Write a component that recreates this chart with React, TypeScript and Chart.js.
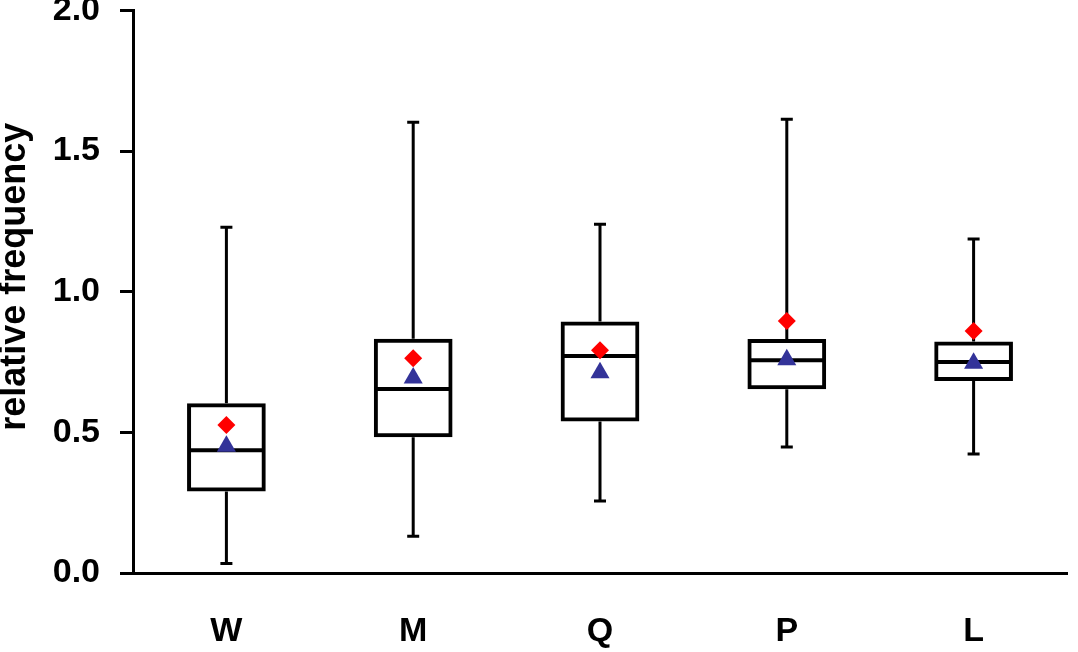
import React, { useEffect, useRef } from "react"
import { Chart, registerables } from "chart.js"

Chart.register(...registerables)

const categories = ["W", "M", "Q", "P", "L"]
const whiskerMin = [0.034, 0.131, 0.256, 0.448, 0.423]
const quartile1 = [0.297, 0.49, 0.546, 0.66, 0.69]
const medians = [0.436, 0.654, 0.771, 0.756, 0.75]
const quartile3 = [0.596, 0.826, 0.887, 0.825, 0.816]
const whiskerMax = [1.229, 1.602, 1.24, 1.613, 1.187]
const diamondValues = [0.526, 0.763, 0.792, 0.896, 0.86]
const triangleValues = [0.451, 0.693, 0.712, 0.758, 0.746]
const yTicks = [0, 0.5, 1, 1.5, 2]

const FONT = '"Liberation Sans", Arial, sans-serif'

// whiskers, caps and median lines, drawn right after the boxes
const boxExtras = {
  id: "boxExtras",
  afterDatasetDraw(chart: any, args: any) {
    if (args.index !== 0) return
    const { ctx } = chart
    const y = chart.scales.y
    const meta = chart.getDatasetMeta(0)
    ctx.save()
    ctx.strokeStyle = "#000"
    ctx.lineCap = "butt"
    meta.data.forEach((bar: any, i: number) => {
      const x = bar.x
      const half = bar.width / 2
      ctx.lineWidth = 3
      ctx.beginPath()
      ctx.moveTo(x, y.getPixelForValue(quartile3[i]) - 2)
      ctx.lineTo(x, y.getPixelForValue(whiskerMax[i]))
      ctx.moveTo(x, y.getPixelForValue(quartile1[i]) + 2)
      ctx.lineTo(x, y.getPixelForValue(whiskerMin[i]))
      ctx.moveTo(x - 6, y.getPixelForValue(whiskerMax[i]))
      ctx.lineTo(x + 6, y.getPixelForValue(whiskerMax[i]))
      ctx.moveTo(x - 6, y.getPixelForValue(whiskerMin[i]))
      ctx.lineTo(x + 6, y.getPixelForValue(whiskerMin[i]))
      ctx.stroke()
      ctx.lineWidth = 4
      ctx.beginPath()
      ctx.moveTo(x - half, y.getPixelForValue(medians[i]))
      ctx.lineTo(x + half, y.getPixelForValue(medians[i]))
      ctx.stroke()
    })
    ctx.restore()
  },
}

export default function App() {
  const canvasRef = useRef<HTMLCanvasElement>(null)
  const chartRef = useRef<Chart | null>(null)

  useEffect(() => {
    if (!canvasRef.current) return
    const ctx = canvasRef.current.getContext("2d")
    if (!ctx) return

    chartRef.current?.destroy()

    chartRef.current = new Chart(ctx, {
      type: "bar",
      data: {
        labels: categories,
        datasets: [
          {
            type: "bar",
            data: quartile1.map((q, i) => [q, quartile3[i]]),
            backgroundColor: "#ffffff",
            borderColor: "#000000",
            borderWidth: 4,
            borderSkipped: false,
            inflateAmount: 2,
            barPercentage: 0.4,
            categoryPercentage: 1,
            order: 3,
          } as any,
          {
            type: "line",
            data: triangleValues,
            showLine: false,
            pointStyle: "triangle",
            pointRadius: 11,
            pointBorderWidth: 0,
            pointBackgroundColor: "#333399",
            pointBorderColor: "#333399",
            order: 2,
          },
          {
            type: "line",
            data: diamondValues,
            showLine: false,
            pointStyle: "rectRot",
            pointRadius: 9,
            pointBorderWidth: 0,
            pointBackgroundColor: "#ff0000",
            pointBorderColor: "#ff0000",
            order: 1,
          },
        ],
      },
      options: {
        responsive: true,
        maintainAspectRatio: false,
        animation: false,
        layout: { padding: { top: 22, left: 0, right: 5, bottom: 0 } },
        plugins: {
          legend: { display: false },
          tooltip: { enabled: false },
        },
        scales: {
          x: {
            grid: { display: false },
            border: { display: true, color: "#000", width: 3 },
            ticks: {
              color: "#000",
              padding: 30,
              font: { family: FONT, size: 34, weight: "bold" },
            },
            afterFit: (scale: any) => {
              scale.height = 79
            },
          },
          y: {
            min: 0,
            max: 2,
            afterBuildTicks: (scale: any) => {
              scale.ticks = yTicks.map((v) => ({ value: v }))
            },
            grid: {
              display: true,
              drawOnChartArea: false,
              drawTicks: true,
              tickLength: 13,
              color: "#000",
              lineWidth: 3,
            },
            border: { display: true, color: "#000", width: 3 },
            ticks: {
              color: "#000",
              padding: 20,
              font: { family: FONT, size: 34, weight: "bold" },
              callback: (v) => Number(v).toFixed(1),
            },
            title: {
              display: true,
              text: "\u00a0\u00a0\u00a0relative frequency",
              color: "#000",
              padding: 0,
              font: { family: FONT, size: 36, weight: "bold", lineHeight: 0.85 },
            },
            afterFit: (scale: any) => {
              scale.width = 133
            },
          },
        },
      },
      plugins: [boxExtras],
    })

    return () => {
      chartRef.current?.destroy()
      chartRef.current = null
    }
  }, [])

  return (
    <div
      style={{
        position: "fixed",
        left: 0,
        top: -30,
        width: 1078,
        height: 682,
        background: "#fff",
      }}
    >
      <canvas ref={canvasRef} />
    </div>
  )
}
